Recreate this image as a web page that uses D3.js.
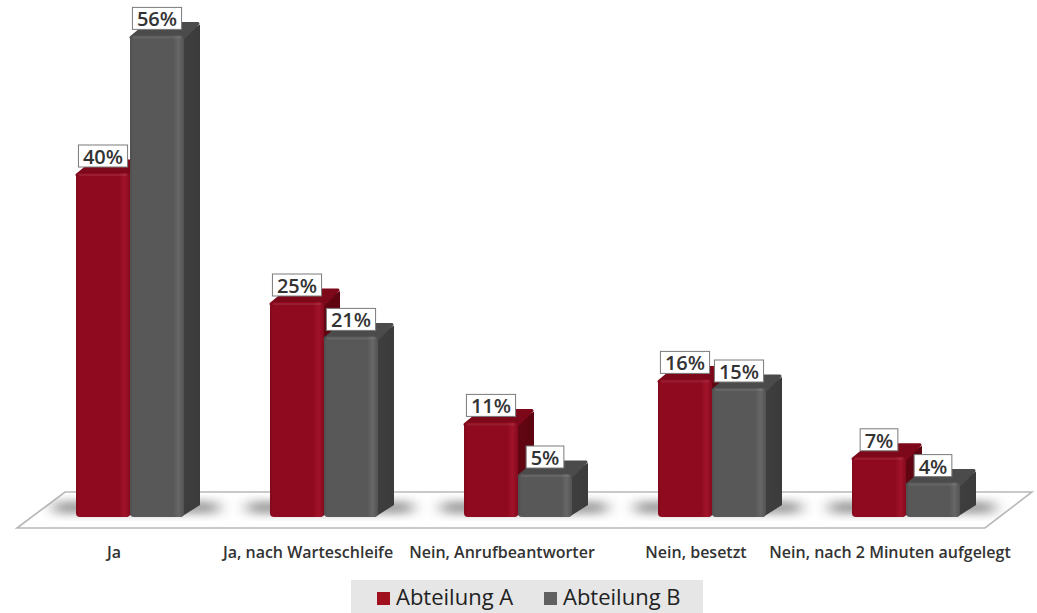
<!DOCTYPE html>
<html>
<head>
<meta charset="utf-8">
<script src="https://cdn.jsdelivr.net/npm/d3@7"></script>
<style>
  html, body { margin: 0; padding: 0; background: #ffffff; }
  svg { display: block; }
</style>
</head>
<body>
<svg id="chart" width="1037" height="613"></svg>
<script>
// Umfrage: Wurde der Anruf angenommen? (Anteile je Abteilung)
const categories = ["Ja", "Ja, nach Warteschleife", "Nein, Anrufbeantworter", "Nein, besetzt", "Nein, nach 2 Minuten aufgelegt"];
const seriesNames = ["Abteilung A", "Abteilung B"];
const valuesA = [0.40, 0.25, 0.11, 0.16, 0.07];
const valuesB = [0.56, 0.21, 0.05, 0.15, 0.04];
const seriesValues = [valuesA, valuesB];

const baseY = 517;          // bottom of the bar fronts
const depthX = 16, depthY = 12;
const barW = 54;

const svg = d3.select("#chart");
const defs = svg.append("defs");

const colors = {
  "Abteilung A": { front: "#900a1f", frontHi: "#a0142a", side: "#5c0511", top: "#7d0819", legend: "#a0101f" },
  "Abteilung B": { front: "#585858", frontHi: "#676767", side: "#3b3b3b", top: "#4b4b4b", legend: "#606060" }
};

// front-face gradients with a soft bevel highlight near the edges
seriesNames.forEach((s, i) => {
  const c = colors[s];
  const g = defs.append("linearGradient").attr("id", "front" + i).attr("x1", 0).attr("x2", 1).attr("y1", 0).attr("y2", 0);
  g.append("stop").attr("offset", "0%").attr("stop-color", d3.color(c.front).darker(0.3));
  g.append("stop").attr("offset", "6%").attr("stop-color", c.front);
  g.append("stop").attr("offset", "80%").attr("stop-color", c.front);
  g.append("stop").attr("offset", "90%").attr("stop-color", c.frontHi);
  g.append("stop").attr("offset", "100%").attr("stop-color", d3.color(c.front).darker(0.2));
  const sg = defs.append("linearGradient").attr("id", "side" + i).attr("x1", 0).attr("x2", 1).attr("y1", 0).attr("y2", 0);
  sg.append("stop").attr("offset", "0%").attr("stop-color", d3.color(c.side).brighter(0.2));
  sg.append("stop").attr("offset", "100%").attr("stop-color", c.side);
});

const blur = defs.append("filter").attr("id", "blur").attr("x", "-50%").attr("y", "-50%").attr("width", "200%").attr("height", "200%");
blur.append("feGaussianBlur").attr("stdDeviation", "8 4");

const x0 = d3.scaleBand().domain(categories).range([33, 1003]).padding(0);
const x1 = d3.scaleBand().domain(seriesNames).range([0, barW * 2]).padding(0);
const y = d3.scaleLinear().domain([0, 1]).range([baseY, baseY - 860]);

function groupLeft(cat) { return x0(cat) + x0.bandwidth() / 2 - barW; }

// floor
const floorPts = [[17, 528], [65, 492], [1032, 492], [985, 528]];
defs.append("clipPath").attr("id", "floorClip").append("polygon").attr("points", floorPts.map(p => p.join(",")).join(" "));
svg.append("polygon")
  .attr("points", floorPts.map(p => p.join(",")).join(" "))
  .attr("fill", "#ffffff")
  .attr("stroke", "#b8b8b8")
  .attr("stroke-width", 1.6);

// soft shadows cast on the floor
const shadowG = svg.append("g").attr("clip-path", "url(#floorClip)");
shadowG.selectAll("rect")
  .data(categories)
  .join("rect")
  .attr("x", d => groupLeft(d) - 22)
  .attr("y", 501)
  .attr("width", barW * 2 + depthX + 40)
  .attr("height", 13)
  .attr("fill", "#444")
  .attr("opacity", 0.5)
  .attr("filter", "url(#blur)");

// bars
const bars = [];
categories.forEach((cat, ci) => {
  seriesNames.forEach((s, si) => {
    bars.push({ cat, s, si, v: seriesValues[si][ci] });
  });
});

const barG = svg.append("g");
bars.forEach(b => {
  const x = groupLeft(b.cat) + x1(b.s);
  const top = y(b.v);
  const w = x1.bandwidth();
  const c = colors[b.s];
  const g = barG.append("g");
  // right side face
  g.append("path")
    .attr("d", `M${x + w - 3},${top} L${x + w + depthX},${top - depthY + 1} L${x + w + depthX},${baseY - depthY} L${x + w - 3},${baseY} Z`)
    .attr("fill", `url(#side${b.si})`);
  // top face
  g.append("path")
    .attr("d", `M${x + 1},${top + 2} L${x + depthX + 2},${top - depthY} L${x + w + depthX - 2},${top - depthY} L${x + w},${top + 2} Z`)
    .attr("fill", c.top)
    .attr("stroke", c.top)
    .attr("stroke-linejoin", "round")
    .attr("stroke-width", 3);
  // front face
  g.append("rect")
    .attr("x", x)
    .attr("y", top)
    .attr("width", w)
    .attr("height", baseY - top)
    .attr("rx", 4)
    .attr("fill", `url(#front${b.si})`);
  // slight highlight along the front top edge
  g.append("rect")
    .attr("x", x + 3)
    .attr("y", top + 1)
    .attr("width", w - 6)
    .attr("height", 2)
    .attr("fill", "#ffffff")
    .attr("opacity", 0.08);
});

// value labels
const labelG = svg.append("g");
bars.forEach(b => {
  const x = groupLeft(b.cat) + x1(b.s);
  const cx = x + x1.bandwidth() / 2;
  const top = y(b.v);
  const g = labelG.append("g");
  const t = g.append("text")
    .attr("x", cx)
    .attr("y", top - 9)
    .attr("text-anchor", "middle")
    .attr("font-family", "'Open Sans', sans-serif")
    .attr("font-weight", 600)
    .attr("font-size", 20)
    .attr("fill", "#333333")
    .text(Math.round(b.v * 100) + "%");
  const tw = t.node().getComputedTextLength();
  g.insert("rect", "text")
    .attr("x", cx - tw / 2 - 4.5)
    .attr("y", top - 28)
    .attr("width", tw + 9)
    .attr("height", 22)
    .attr("fill", "#ffffff")
    .attr("stroke", "#7a7a7a")
    .attr("stroke-width", 1);
});

// category axis labels
svg.append("g").selectAll("text")
  .data(categories)
  .join("text")
  .attr("x", d => x0(d) + x0.bandwidth() / 2 - 16)
  .attr("y", 558)
  .attr("text-anchor", "middle")
  .attr("font-family", "'Open Sans', sans-serif")
  .attr("font-weight", 600)
  .attr("font-size", 16)
  .attr("fill", "#333333")
  .text(d => d);

// legend
const legend = svg.append("g");
legend.append("rect")
  .attr("x", 351).attr("y", 580).attr("width", 352).attr("height", 40)
  .attr("fill", "#e6e6e6");
const legendX = d3.scalePoint().domain(seriesNames).range([377, 544]);
const li = legend.selectAll("g.item").data(seriesNames).join("g").attr("class", "item");
li.append("rect")
  .attr("x", d => legendX(d))
  .attr("y", 592)
  .attr("width", 13)
  .attr("height", 13)
  .attr("fill", d => colors[d].legend);
li.append("text")
  .attr("x", d => legendX(d) + 19)
  .attr("y", 605)
  .attr("font-family", "'Open Sans', sans-serif")
  .attr("font-size", 22)
  .attr("fill", "#222222")
  .text(d => d);
</script>
</body>
</html>
